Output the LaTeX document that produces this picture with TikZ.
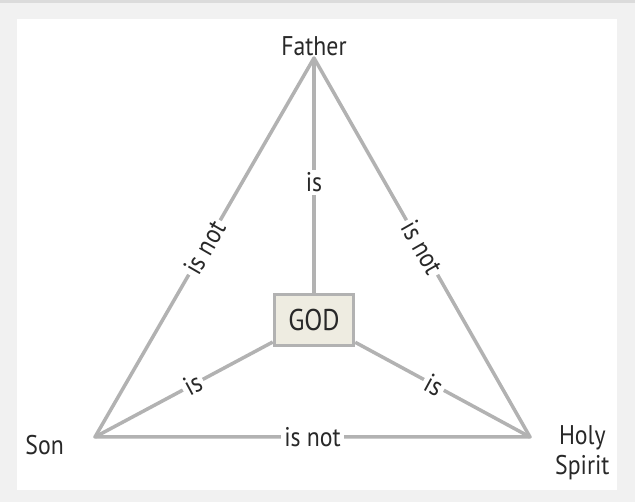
\documentclass[tikz,border=0pt]{standalone}
\usepackage{fontspec}
\setmainfont{PT Sans}[FakeStretch=0.88]
\usepackage{xcolor}
\usetikzlibrary{positioning}
\definecolor{edgegray}{RGB}{178,178,178}
\definecolor{godfill}{RGB}{238,236,225}
\definecolor{framegray}{RGB}{241,241,241}
\definecolor{textgray}{RGB}{40,40,40}

\begin{document}
\begin{tikzpicture}[x=1pt,y=-1pt]

	\tikzstyle{relline} = [draw=edgegray, line width=3.5pt, line join=round]
	\tikzstyle{relword} = [fill=white, text=textgray, font=\fontsize{27}{30}\selectfont, inner sep=3pt]
	\tikzstyle{personname} = [text=textgray, font=\fontsize{27}{30}\selectfont, align=center, inner sep=2pt]
	% frame
	\fill[framegray] (0,0) rectangle (635,502);
	\fill[black!14] (0,0) rectangle (635,3);
	\fill[white] (17,19) rectangle (617,490);
	\coordinate (father) at (314,58);
	\coordinate (son) at (95,437);
	\coordinate (spirit) at (530,437);
	\node[draw=edgegray, line width=3.5pt, fill=godfill, minimum width=79pt,
	minimum height=51pt, text=textgray, font=\fontsize{30}{32}\selectfont]     (god)  at (314,320) {GOD};
	\node[personname, above=0pt of father]     (fathertext)  {Father};
	\node[personname, left=29pt of son, yshift=-8pt]     (sontext)  {Son};
	\node[personname, right=23pt of spirit, yshift=-16pt]     (spirittext)  {Holy\\Spirit};
\draw [relline] (son) -- node[relword, sloped] {is not} (father) -- node[relword, sloped] {is not} (spirit) -- node[relword] {is not} cycle;
\draw [relline] (father) -- node[relword, pos=0.53] {is} (god);
\draw [relline] (son) -- node[relword, sloped, pos=0.55] {is} (god);
\draw [relline] (spirit) -- node[relword, sloped, pos=0.55] {is} (god);

\end{tikzpicture}
\end{document}
